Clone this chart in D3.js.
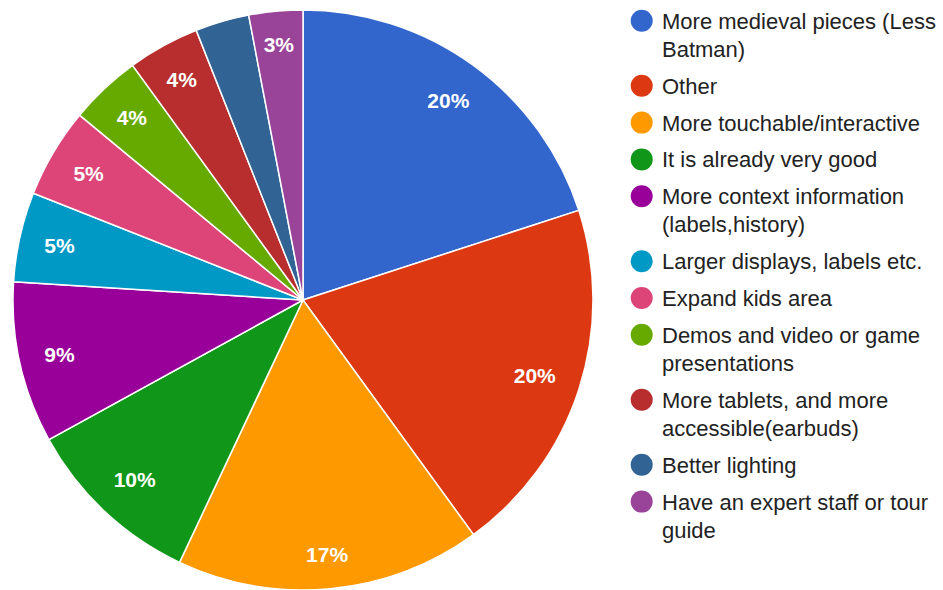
<!DOCTYPE html>
<html>
<head>
<meta charset="utf-8">
<script src="https://cdn.jsdelivr.net/npm/d3@7/dist/d3.min.js"></script>
<style>
  html, body { margin: 0; padding: 0; background: #fff; }
  svg { display: block; }
</style>
</head>
<body>
<svg id="chart" width="943" height="590"></svg>
<script>
// Survey answers: what would improve the visit
const categories = [
  "More medieval pieces (Less Batman)",
  "Other",
  "More touchable/interactive",
  "It is already very good",
  "More context information (labels,history)",
  "Larger displays, labels etc.",
  "Expand kids area",
  "Demos and video or game presentations",
  "More tablets, and more accessible(earbuds)",
  "Better lighting",
  "Have an expert staff or tour guide"
];
const values = [20, 20, 17, 10, 9, 5, 5, 4, 4, 3, 3];
const colors = [
  "#3366cc", "#dc3912", "#ff9900", "#109618", "#990099", "#0099c6",
  "#dd4477", "#66aa00", "#b82e2e", "#316395", "#994499"
];
// slices whose percentage text is left off
const unlabeled = ["Better lighting"];

const svg = d3.select("#chart");
const cx = 303, cy = 300, R = 290;
const labelFont = 21;
// farthest corner of each percentage label sits this far from the centre
const labelReach = 266;

const total = d3.sum(values);
const data = categories.map((c, i) => ({ name: c, value: values[i], color: colors[i] }));

const pie = d3.pie().value(d => d.value).sort(null);
const arcs = pie(data);
const arc = d3.arc().innerRadius(0).outerRadius(R);

const g = svg.append("g").attr("transform", `translate(${cx},${cy})`);

g.selectAll("path.slice")
  .data(arcs)
  .join("path")
  .attr("class", "slice")
  .attr("d", arc)
  .attr("fill", d => d.data.color)
  .attr("stroke", "#fff")
  .attr("stroke-width", 1.5);

g.selectAll("text.pct")
  .data(arcs.filter(d => !unlabeled.includes(d.data.name)))
  .join("text")
  .attr("class", "pct")
  .attr("text-anchor", "middle")
  .attr("dy", "0.36em")
  .attr("fill", "#fff")
  .attr("font-family", "Liberation Sans, Arial, sans-serif")
  .attr("font-weight", "bold")
  .attr("font-size", labelFont)
  .text(d => Math.round(d.data.value / total * 100) + "%")
  .attr("transform", function (d) {
    const a = (d.startAngle + d.endAngle) / 2;
    const s = Math.abs(Math.sin(a)), c = Math.abs(Math.cos(a));
    const w = this.getComputedTextLength(), h = labelFont * 0.72;
    const b = w * s + h * c;
    const k = (w * w + h * h) / 4 - labelReach * labelReach;
    const r = (-b + Math.sqrt(b * b - 4 * k)) / 2;
    return `translate(${r * Math.sin(a)},${-r * Math.cos(a)})`;
  });

// Legend with wrapped entries
const legend = svg.append("g").attr("class", "legend");
const legX = 662, dotX = 641.7, dotR = 11;
const lineH = 28.2, entryGap = 36.8, maxW = 281;
const fontSize = 22;

let y = 20.8;
data.forEach(d => {
  const t = legend.append("text")
    .attr("x", legX)
    .attr("font-family", "Liberation Sans, Arial, sans-serif")
    .attr("font-size", fontSize)
    .attr("fill", "#222");
  // greedy word wrap measured with the rendered font
  const words = d.name.split(" ");
  const lines = [];
  let cur = "";
  const probe = t.append("tspan");
  words.forEach(w => {
    const test = cur ? cur + " " + w : w;
    probe.text(test);
    if (cur && probe.node().getComputedTextLength() > maxW) {
      lines.push(cur);
      cur = w;
    } else {
      cur = test;
    }
  });
  lines.push(cur);
  probe.remove();

  legend.append("circle")
    .attr("cx", dotX)
    .attr("cy", y)
    .attr("r", dotR)
    .attr("fill", d.color);

  lines.forEach((ln, k) => {
    t.append("tspan")
      .attr("x", legX)
      .attr("y", y + k * lineH)
      .attr("dy", "0.36em")
      .text(ln);
  });
  y += (lines.length - 1) * lineH + entryGap;
});
</script>
</body>
</html>
